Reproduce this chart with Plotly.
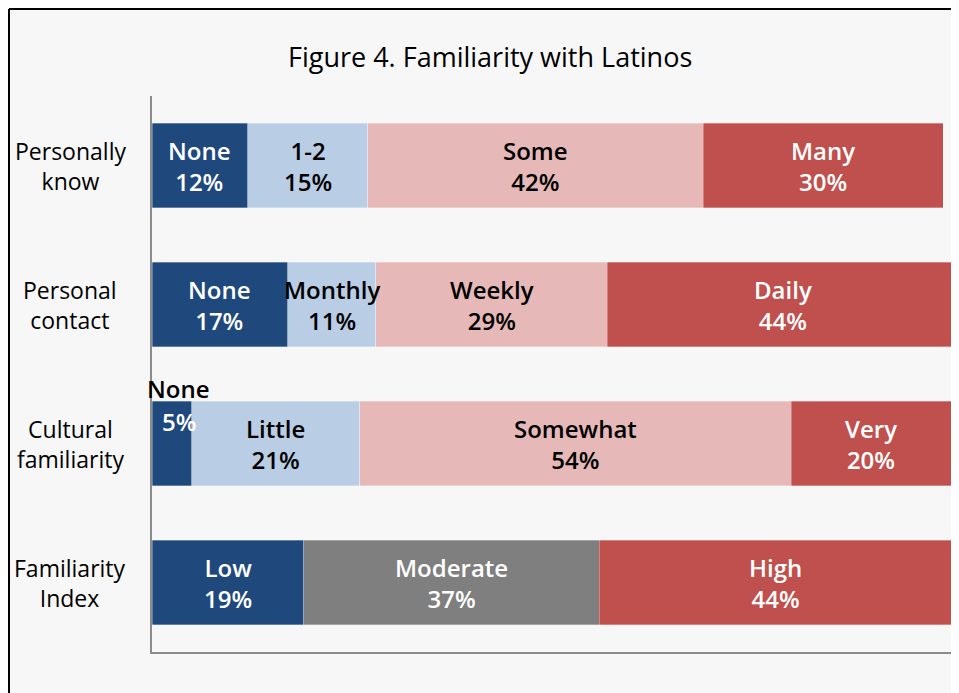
import plotly.graph_objects as go

categories = ["Personally know", "Personal contact", "Cultural familiarity", "Familiarity Index"]
category_labels = ["Personally<br>know", "Personal<br>contact", "Cultural<br>familiarity", "Familiarity<br>Index"]

know_labels = ["None", "1-2", "Some", "Many"]
know_values = [12, 15, 42, 30]
contact_labels = ["None", "Monthly", "Weekly", "Daily"]
contact_values = [17, 11, 29, 44]
culture_labels = ["None", "Little", "Somewhat", "Very"]
culture_values = [5, 21, 54, 20]
index_labels = ["Low", "Moderate", "High"]
index_values = [19, 37, 44]

DARK_BLUE = "#1F497D"
LIGHT_BLUE = "#B9CDE5"
PINK = "#E6B9B8"
RED = "#C0504D"
GRAY = "#7F7F7F"
four_colors = [DARK_BLUE, LIGHT_BLUE, PINK, RED]
three_colors = [DARK_BLUE, GRAY, RED]
text_on = {DARK_BLUE: "white", LIGHT_BLUE: "black", PINK: "black", RED: "white", GRAY: "white"}

rows = [
    (categories[0], know_labels, know_values, four_colors),
    (categories[1], contact_labels, contact_values, four_colors),
    (categories[2], culture_labels, culture_values, four_colors),
    (categories[3], index_labels, index_values, three_colors),
]

W, H = 959, 693
L, T, PW, PH = 144, 88, 799, 556

fig = go.Figure()
annotations = []
font = "'Open Sans', sans-serif"


def bar_font(color):
    return dict(family=font, size=24, color=color, weight=600)


for cat, labels, values, colors in rows:
    start = 0
    for lab, val, col in zip(labels, values, colors):
        fig.add_trace(go.Bar(
            y=[cat], x=[val], orientation="h",
            marker=dict(color=col, line=dict(color="rgba(255,255,255,0.6)", width=0.5)),
            showlegend=False, hoverinfo="skip",
        ))
        mid = start + val / 2
        if val < 8:
            # segment too narrow: name sits above the bar
            annotations.append(dict(x=mid, y=cat, xref="x", yref="y", text=lab,
                                    showarrow=False, yshift=55, xshift=7,
                                    font=bar_font("black")))
            annotations.append(dict(x=mid, y=cat, xref="x", yref="y", text=f"{val}%",
                                    showarrow=False, yshift=22, xshift=7,
                                    font=bar_font("white")))
        else:
            annotations.append(dict(x=mid, y=cat, xref="x", yref="y",
                                    text=f"{lab}<br>{val}%", showarrow=False,
                                    font=bar_font(text_on[col])))
        start += val

for cat, lab in zip(categories, category_labels):
    annotations.append(dict(x=(62 - L) / PW, y=cat, xref="paper", yref="y",
                            xanchor="center", yanchor="middle",
                            text=lab, showarrow=False, align="center",
                            font=dict(family=font, size=23, color="black")))

annotations.append(dict(x=(482 - L) / PW, y=(T + PH - 49) / PH, xref="paper", yref="paper",
                        xanchor="center", yanchor="middle",
                        text="Figure 4. Familiarity with Latinos", showarrow=False,
                        font=dict(family=font, size=27, color="black")))

# outer frame: only the left and top edges fall inside the window
fx0 = (1 - L) / PW
fy1 = (T + PH - 1) / PH
frame = [
    dict(type="line", xref="paper", yref="paper", x0=fx0, x1=fx0, y0=-0.2, y1=fy1,
         line=dict(color="black", width=2)),
    dict(type="line", xref="paper", yref="paper", x0=fx0, x1=1.1, y0=fy1, y1=fy1,
         line=dict(color="black", width=2)),
]

fig.update_layout(
    width=W, height=H,
    margin=dict(l=L, r=W - L - PW, t=T, b=H - T - PH),
    barmode="stack", bargap=0.39,
    paper_bgcolor="#F7F7F7", plot_bgcolor="#F7F7F7",
    annotations=annotations,
    shapes=frame,
)
fig.update_xaxes(range=[0, 100], showgrid=False, zeroline=False, showticklabels=False,
                 showline=True, linecolor="#8C8C8C", linewidth=1.5, ticks="")
fig.update_yaxes(autorange="reversed", showgrid=False, showticklabels=False,
                 showline=True, linecolor="#8C8C8C", linewidth=1.5, ticks="")

fig.write_html("out.html")
